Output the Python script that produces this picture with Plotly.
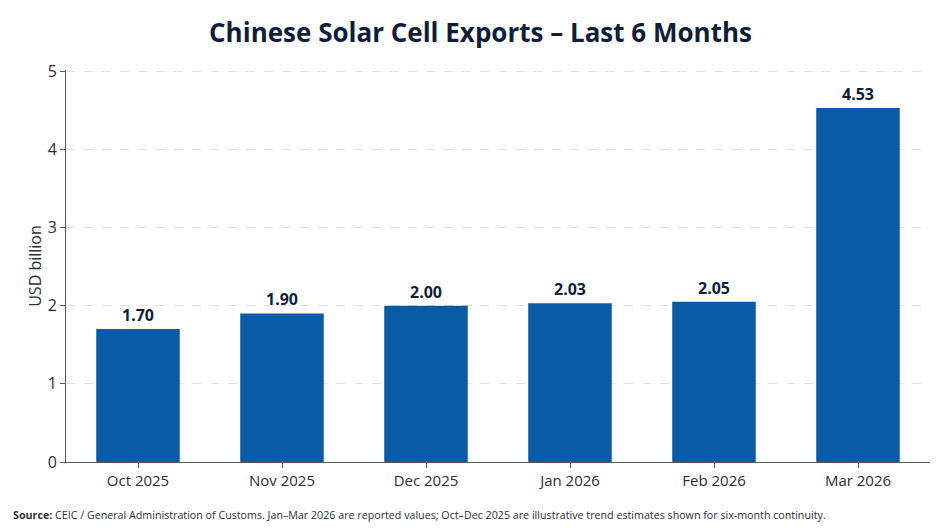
import plotly.graph_objects as go

months = ["Oct 2025", "Nov 2025", "Dec 2025", "Jan 2026", "Feb 2026", "Mar 2026"]
exports = [1.70, 1.90, 2.00, 2.03, 2.05, 4.53]
y_ticks = [0, 1, 2, 3, 4, 5]

font_name = "Open Sans"
bar_color = "#0B5AA6"
navy = "#0F1D3A"

fig = go.Figure()
fig.add_trace(go.Bar(
    x=months, y=exports,
    marker=dict(color=bar_color, line=dict(width=0)),
    width=0.58,
    text=[f"{v:.2f}" for v in exports],
    textposition="outside",
    textfont=dict(family=font_name, size=16, color=navy, weight="bold"),
    cliponaxis=False,
))

fig.update_layout(
    width=945, height=532,
    paper_bgcolor="white", plot_bgcolor="white",
    margin=dict(l=58, r=23, t=62, b=78),
    showlegend=False,
    title=dict(text="<b>Chinese Solar Cell Exports – Last 6 Months</b>",
               x=0.5, xanchor="center", y=0.953, yanchor="middle",
               font=dict(family=font_name, size=26, color=navy)),
    font=dict(family=font_name, color="#2a2f3a"),
)
fig.update_xaxes(
    showline=True, linecolor="#555b66", linewidth=1,
    ticks="outside", ticklen=5, tickcolor="#555b66",
    tickfont=dict(size=15, color="#2a2f3a"),
    showgrid=False,
)
fig.update_yaxes(
    range=[0, 5.015], tickvals=y_ticks,
    showline=True, linecolor="#555b66", linewidth=1,
    ticks="outside", ticklen=5, tickcolor="#555b66",
    tickfont=dict(size=16, color="#2a2f3a"),
    showgrid=True, gridcolor="#dde1ea", griddash="dash", gridwidth=1,
    zeroline=False,
    title=dict(text="USD billion", font=dict(size=16, color="#2a2f3a"), standoff=2),
)

fig.add_annotation(
    x=0, y=-0.135, xref="paper", yref="paper", xanchor="left", yanchor="middle",
    xshift=-55,
    text="<b>Source:</b> CEIC / General Administration of Customs. Jan–Mar 2026 are reported values; "
         "Oct–Dec 2025 are illustrative trend estimates shown for six-month continuity.",
    showarrow=False, font=dict(family=font_name, size=10.7, color="#2a2f3a"),
)

fig.write_html("out.html")
